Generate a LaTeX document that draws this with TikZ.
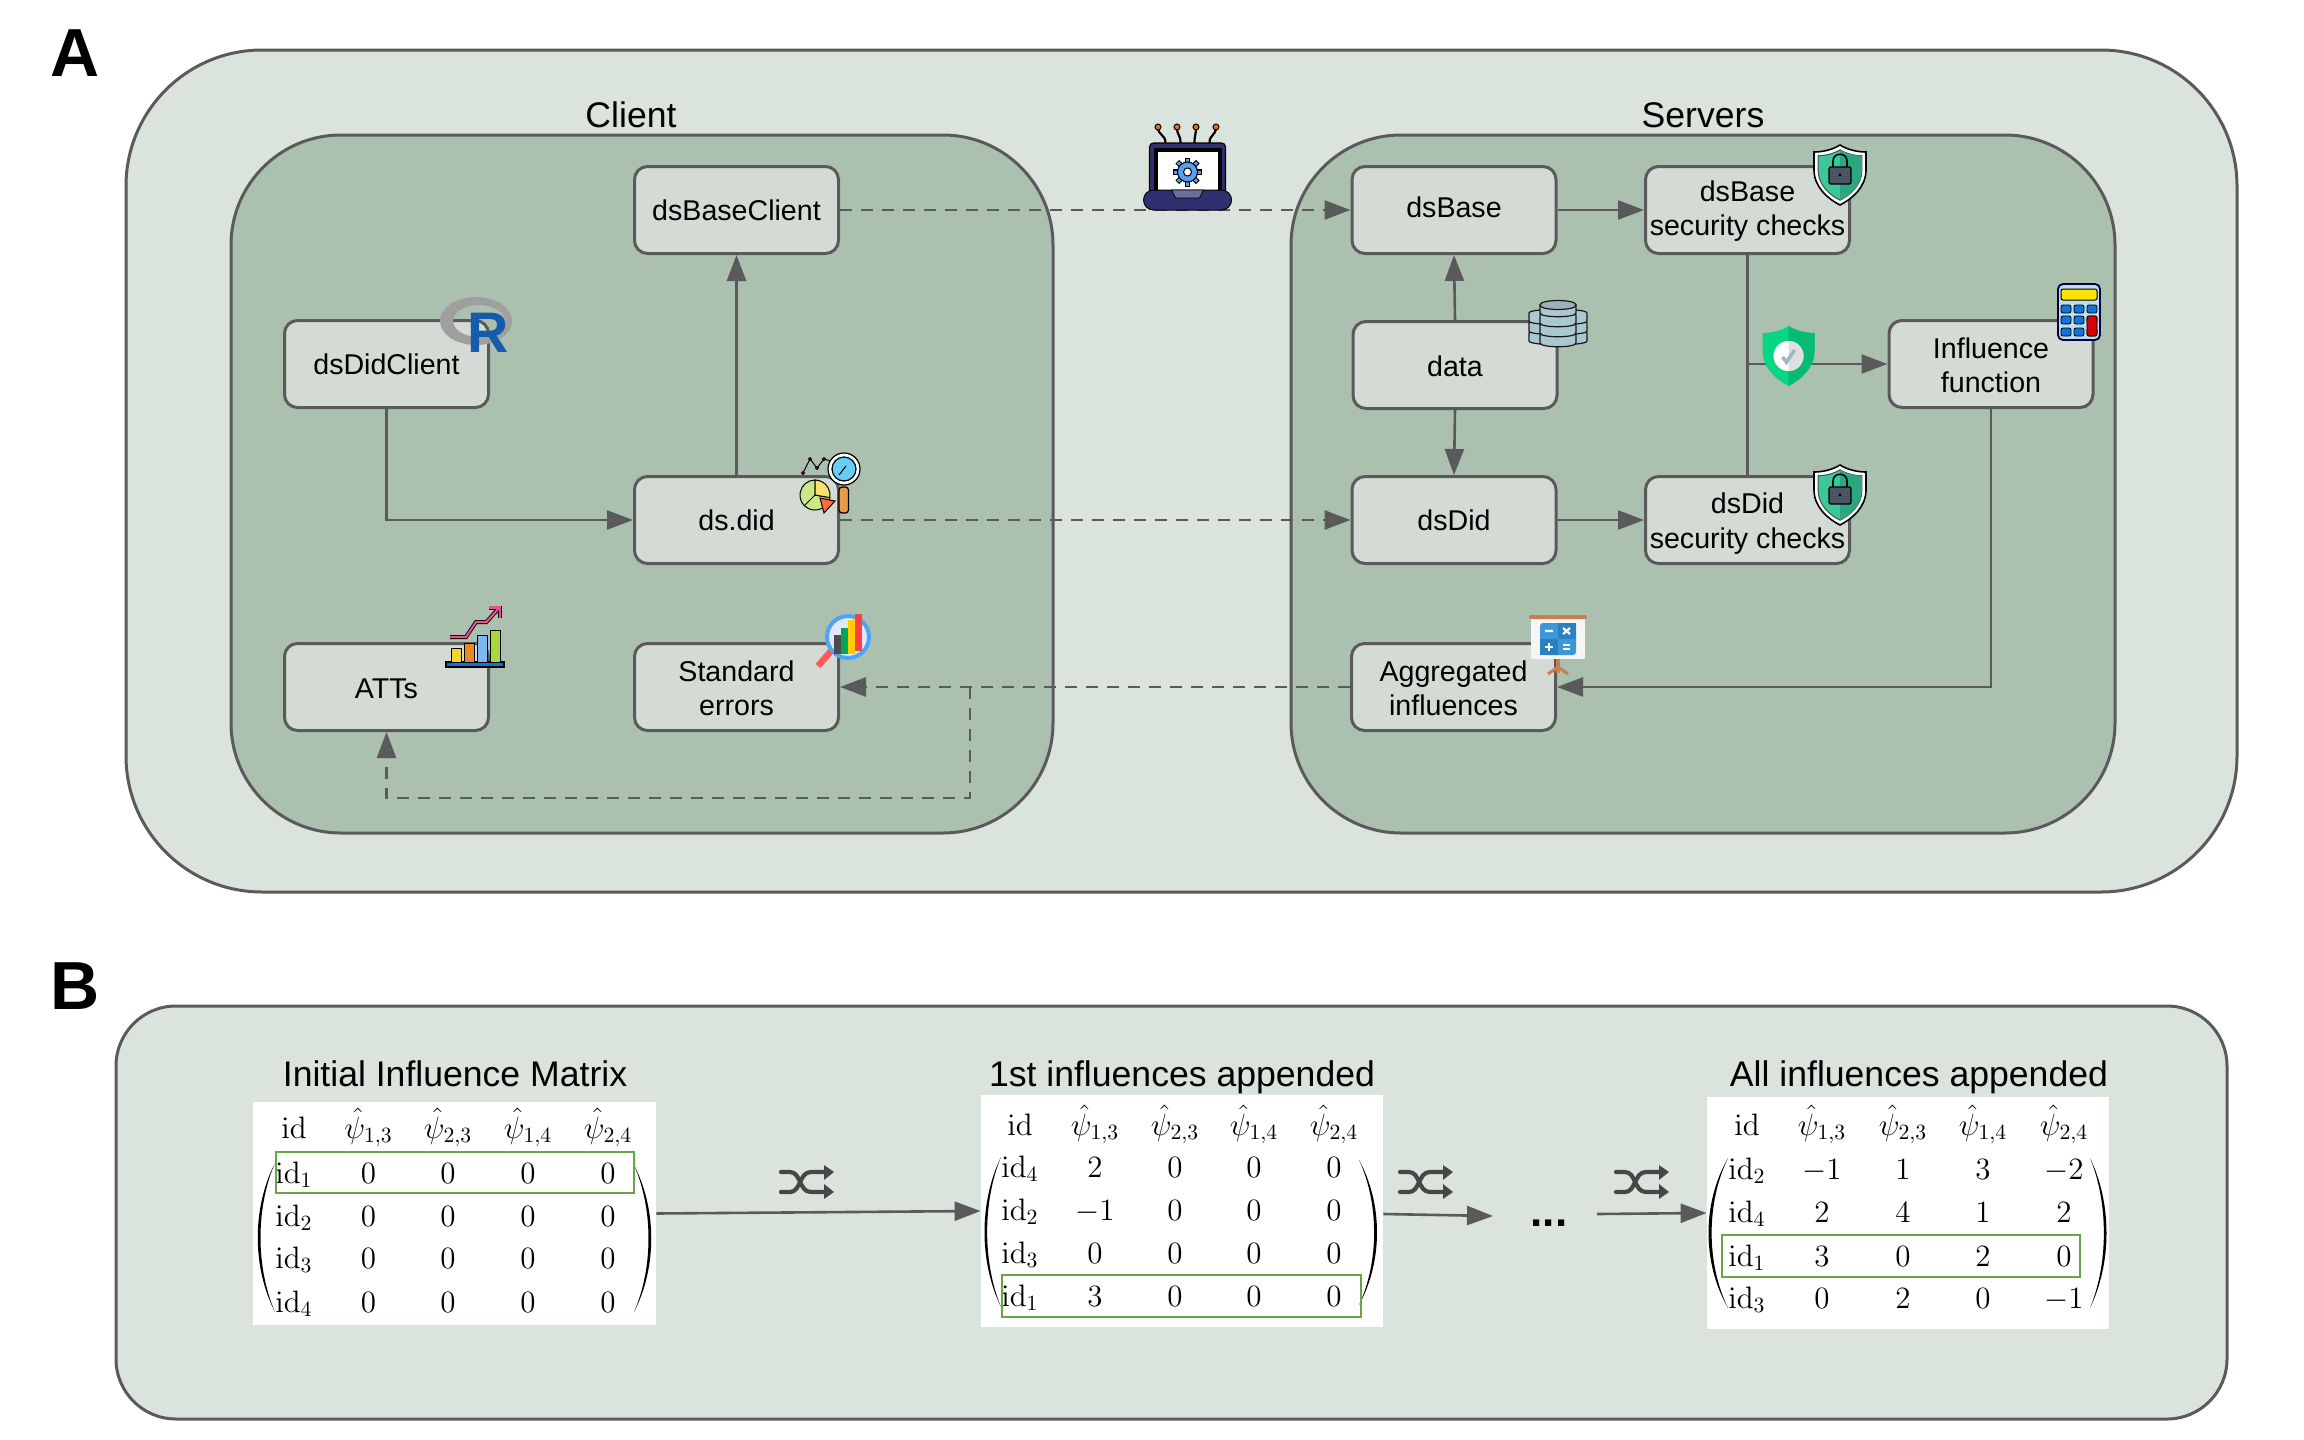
\documentclass[tikz,border=0pt]{standalone}
\usepackage[no-math]{fontspec}
\setmainfont{Liberation Sans}
\usepackage{fix-cm}
\usepackage{amsmath}
\usetikzlibrary{
  arrows.meta,
  calc
}
\definecolor{OuterFill}{HTML}{DBE4DC}
\definecolor{InnerFill}{HTML}{ACC0B0}
\definecolor{BoxFill}{HTML}{D3DBD4}
\definecolor{EdgeColor}{HTML}{5A5A5A}
\definecolor{RowGreen}{HTML}{67A54B}
\definecolor{IconNavy}{HTML}{2F3070}
\definecolor{ShieldA}{HTML}{3CC79A}
\definecolor{ShieldB}{HTML}{2BA67E}
\definecolor{LockGrey}{HTML}{4B5563}
\definecolor{GuardA}{HTML}{08D681}
\definecolor{GuardB}{HTML}{06BC72}
\definecolor{DiskBlue}{HTML}{A9C8D0}
\definecolor{KeyBlue}{HTML}{1274D9}
\definecolor{CalcBody}{HTML}{BCDCF0}
\definecolor{BoardLight}{HTML}{3B97D9}
\definecolor{BoardDark}{HTML}{2A80C0}
\definecolor{BoardWood}{HTML}{C87F4F}
\definecolor{GearBlue}{HTML}{5B9EF0}
\definecolor{RBlue}{HTML}{165CAA}
\definecolor{TrendPink}{HTML}{E8508F}
\definecolor{BarYellow}{HTML}{F6D32D}
\definecolor{BarOrange}{HTML}{E58A25}
\definecolor{BarBlue}{HTML}{7DB8F2}
\definecolor{BarGreen}{HTML}{A8D93A}
\definecolor{LensBlue}{HTML}{4DA6F5}

% Shield outlines, top centre at the origin
\newcommand{\shieldpath}{(0,0) .. controls (8,5) and (18,7) .. (26,7) -- (26,25)
  .. controls (26,42) and (12,54) .. (0,60) .. controls (-12,54) and (-26,42) .. (-26,25)
  -- (-26,7) .. controls (-18,7) and (-8,5) .. (0,0) -- cycle}
\newcommand{\shieldhalf}{(0,0) .. controls (8,5) and (18,7) .. (26,7) -- (26,25)
  .. controls (26,42) and (12,54) .. (0,60) -- cycle}
% Pushes a stacked label down inside its box
\newcommand{\lowline}[1]{\rule{0pt}{#1pt}}

\tikzset{
  % Big rounded panels
  outerpanel/.style={draw=EdgeColor, fill=OuterFill, line width=1.5pt},
  innerpanel/.style={draw=EdgeColor, fill=InnerFill, line width=1.5pt, rounded corners=55pt},
  % Package box
  pkgbox/.style={
    draw=EdgeColor,
    fill=BoxFill,
    line width=1.5pt,
    rounded corners=6.5pt,
    minimum width=102pt,
    minimum height=43.5pt,
    inner sep=0pt,
    align=center,
    font=\fontsize{14.3}{17.2}\selectfont
  },
  % Panel and matrix titles
  paneltitle/.style={font=\fontsize{17.8}{20}\selectfont, inner sep=0pt},
  % Panel letter
  panelletter/.style={font=\fontsize{34}{36}\selectfont\bfseries, inner sep=0pt},
  % Solid edge
  link/.style={draw=EdgeColor, line width=1.3pt},
  % Directed edge
  dlink/.style={link, -{Triangle[length=13pt,width=9.5pt]}},
  % Dashed directed edge
  dashlink/.style={dlink, line width=1.4pt, dash pattern=on 6pt off 4.5pt},
  % White matrix sheet
  matsheet/.style={fill=white, inner sep=0pt},
  % Matrix entry
  cell/.style={anchor=base, inner sep=0pt, font=\fontsize{15.5}{18}\selectfont},
  % Highlighted matrix row
  rowmark/.style={draw=RowGreen, line width=1.1pt},
  % Shuffle symbol
  shuffle/.pic={
    \draw[line width=2.1pt, draw=black!72, line cap=round]
      (0,-10) -- (9,-10) .. controls (20,-10) and (18,10) .. (30,10) -- (46,10);
    \draw[line width=2.1pt, draw=black!72, line cap=round]
      (0,10) -- (9,10) .. controls (20,10) and (18,-10) .. (30,-10) -- (46,-10);
    \fill[black!72] (43,-17) -- (53,-10) -- (43,-2) -- cycle;
    \fill[black!72] (43,2) -- (53,10) -- (43,17) -- cycle;
  },
  % Laptop, centre of the screen at the origin
  laptopicon/.pic={
    \foreach \ax/\bx in {-29.5/-22, -10.5/-7, 8.5/7, 28.5/22} {
      \draw[line width=1.1pt, black] (\ax,-45) .. controls (\ax,-36) and (\bx,-38) .. (\bx,-29);
      \fill[orange!80!red, draw=black, line width=.5pt] (\ax,-45) circle (3);
    }
    \fill[IconNavy, draw=black, line width=.6pt, rounded corners=2pt] (-38,-29) rectangle (38,22);
    \fill[black] (-34,-24) rectangle (34,21);
    \fill[white] (-30,-20) rectangle (30,20);
    \fill[IconNavy, draw=black, line width=.5pt, rounded corners=5pt] (-44,18) rectangle (44,38);
    \fill[IconNavy!70!white, draw=black, line width=.4pt] (-16,18) -- (16,18) -- (12,26) -- (-12,26) -- cycle;
    \foreach \a in {0,45,...,315}
      \draw[line width=2.6pt, black] (0,0) -- (\a:14.5);
    \foreach \a in {0,45,...,315}
      \draw[line width=1.5pt, GearBlue] (0,0) -- (\a:13.5);
    \fill[GearBlue, draw=black, line width=.5pt] (0,0) circle (10);
    \fill[white, draw=black, line width=.5pt] (0,0) circle (4);
  },
  % Shield with a padlock
  lockshield/.pic={
    \fill[white, draw=black, line width=.8pt] \shieldpath;
    \begin{scope}[shift={(0,30)}, scale=.84, shift={(0,-30)}]
      \fill[ShieldA, draw=black!70, line width=.5pt] \shieldpath;
      \fill[ShieldB] \shieldhalf;
    \end{scope}
    \draw[black, line width=.8pt] (-7,22) -- (-7,16) .. controls (-7,7) and (7,7) .. (7,16) -- (7,22);
    \fill[LockGrey, draw=black, line width=.7pt, rounded corners=1pt] (-11,22) rectangle (11,39);
    \fill[black] (0,30) circle (1.6);
  },
  % Green shield with a tick
  guardshield/.pic={
    \fill[GuardA] \shieldpath;
    \fill[GuardB] \shieldhalf;
    \fill[white] (0,30) circle (15);
    \fill[gray!25] (0,45) arc (90:-90:15) -- cycle;
    \draw[line width=1.8pt, cyan!25!gray!70] (-6,31) -- (-2,36) -- (6,24);
  },
  % Stacked disks
  diskicon/.pic={
    \foreach \hw/\ys in {29/{8,-2,-12}, 18/{10,0,-10,-20}}
      \foreach \yy in \ys {
        \fill[DiskBlue, draw=black!90, line width=.6pt]
          (-\hw,\yy) -- (-\hw,\yy+8) .. controls (-\hw,\yy+13) and (\hw,\yy+13) .. (\hw,\yy+8)
          -- (\hw,\yy) .. controls (\hw,\yy-5) and (-\hw,\yy-5) .. (-\hw,\yy) -- cycle;
      }
    \fill[DiskBlue!70!gray, draw=black!90, line width=.6pt]
      (-18,-20) .. controls (-18,-26) and (18,-26) .. (18,-20)
      .. controls (18,-14) and (-18,-14) .. (-18,-20) -- cycle;
  },
  % Calculator
  calcicon/.pic={
    \fill[CalcBody, draw=black!75!blue, line width=.9pt, rounded corners=2.5pt] (-21,-28) rectangle (21,28);
    \fill[yellow!85!orange, draw=black, line width=.5pt, rounded corners=1pt] (-18,-23) rectangle (18,-12);
    \foreach \xx in {-18,-5,8}
      \foreach \yy in {-7,4,16}
        \fill[KeyBlue, draw=black, line width=.4pt, rounded corners=1pt] (\xx,\yy) rectangle (\xx+10,\yy+8);
    \fill[red!85!black, draw=black, line width=.4pt, rounded corners=1pt] (8,4) rectangle (18,24);
  },
  % Grey ring of the R logo
  rringicon/.pic={
    \fill[gray!75!white, even odd rule] (0,0) ellipse (36 and 24) (3,0) ellipse (26 and 16);
  },
  % Pie chart, line chart and lens
  didicon/.pic={
    \draw[black, line width=.5pt] (-41,-22) -- (-34,-36) -- (-27,-27) -- (-20,-36) -- (2,-29);
    \foreach \xx/\yy in {-41/-22, -34/-36, -27/-27, -20/-36, 2/-29, -5/-14}
      \fill[red!70!black, draw=black, line width=.3pt] (\xx,\yy) circle (1.6);
    \fill[BarGreen!60!white, draw=black, line width=.5pt] (-29,0) -- ++(10:15) arc (10:270:15) -- cycle;
    \fill[BarYellow!70!white, draw=black, line width=.5pt] (-29,0) -- ++(-90:15) arc (-90:10:15) -- cycle;
    \draw[black, line width=.5pt] (-29,0) -- ++(135:15);
    \fill[red!55!orange!75!white, draw=black, line width=.5pt] (-24,3) -- (-9,6) -- (-20,18) -- cycle;
    \fill[orange!55!brown!80!white, draw=black, line width=.6pt, rounded corners=1.5pt] (-5,-8) rectangle (4.5,18);
    \fill[white, draw=black, line width=.6pt] (0,-26) circle (16);
    \fill[cyan!60!white, draw=black, line width=.6pt] (0,-26) circle (12);
    \draw[black, line width=.5pt] (-5,-20) -- (2,-29);
  },
  % Lens over a bar chart
  lensicon/.pic={
    \draw[red!65!white, line width=3.2pt] (-30,29) -- (-17,14);
    \fill[gray!25!blue!12!white, draw=LensBlue, line width=2pt] (0,0) circle (21);
    \fill[gray!60!black] (-14,-2) rectangle (-7,17);
    \fill[teal!70!green] (-7,-9) rectangle (0,17);
    \fill[orange!40!yellow] (0,-17) rectangle (7,17);
    \fill[red!75!white] (7,-23) rectangle (14,14);
  },
  % Bars with a rising arrow
  attsicon/.pic={
    \fill[KeyBlue, draw=black, line width=.6pt] (-29,-3) rectangle (29,2);
    \foreach \xx/\tp/\col in {-24/-17/BarYellow, -11/-22/BarOrange, 2/-30/BarBlue, 15/-35/BarGreen} {
      \fill[\col, draw=black, line width=.5pt] (\xx,\tp) rectangle (\xx+10,-3);
    }
    \draw[black, line width=2pt, line join=miter] (-25,-28) -- (-9,-28) -- (1,-43) -- (11.5,-43) -- (24,-57);
    \draw[black, line width=2pt] (14,-57.5) -- (25,-57.5) -- (25,-47);
    \draw[TrendPink, line width=1.1pt, line join=miter] (-25,-28) -- (-9,-28) -- (1,-43) -- (11.5,-43) -- (24,-57);
    \draw[TrendPink, line width=1.1pt] (14,-57.5) -- (25,-57.5) -- (25,-47);
  },
  % Calculation board on a stand
  boardicon/.pic={
    \draw[BoardWood, line width=1.8pt] (0,18) -- (0,32);
    \draw[BoardWood, line width=1.5pt] (-10,33) -- (0,26) -- (10,33);
    \fill[white!92!gray] (-27,-23) rectangle (27,18);
    \fill[BoardWood, rounded corners=1pt] (-29,-26) rectangle (29,-22);
    \fill[BoardLight, rounded corners=1.5pt] (-18,-18) rectangle (18,14);
    \fill[BoardDark] (-18,-2) rectangle (0,14);
    \fill[BoardDark] (0,-18) rectangle (18,-2);
    \draw[white, line width=1.1pt] (-13,-10) -- (-5,-10) (5,-13) -- (12,-7) (12,-13) -- (5,-7);
    \draw[white, line width=1.1pt] (-13,6) -- (-5,6) (-9,2) -- (-9,10) (5,4) -- (12,4) (5,8) -- (12,8);
  }
}

% Columns of the matrix being drawn
\newcommand{\infcols}[5]{\def\cxa{#1}\def\cxb{#2}\def\cxc{#3}\def\cxd{#4}\def\cxe{#5}}
% Header row: name, baseline
\newcommand{\infhead}[2]{
  \node[cell] (#1id) at (\cxa,#2) {$\mathrm{id}$};
  \node[cell] (#1ha) at (\cxb,#2) {$\hat{\psi}_{1,3}$};
  \node[cell] (#1hb) at (\cxc,#2) {$\hat{\psi}_{2,3}$};
  \node[cell] (#1hc) at (\cxd,#2) {$\hat{\psi}_{1,4}$};
  \node[cell] (#1hd) at (\cxe,#2) {$\hat{\psi}_{2,4}$};
}
% Data row: name, baseline, id, four values
\newcommand{\infrow}[7]{
  \node[cell] (#1r#3) at (\cxa,#2) {$\mathrm{id}_{#3}$};
  \node[cell] (#1r#3a) at (\cxb,#2) {$#4$};
  \node[cell] (#1r#3b) at (\cxc,#2) {$#5$};
  \node[cell] (#1r#3c) at (\cxd,#2) {$#6$};
  \node[cell] (#1r#3d) at (\cxe,#2) {$#7$};
}
% Tapered bracket: tip x, bulge control x, top, bottom
\newcommand{\matparen}[4]{
  \fill[black] (#1,#3) .. controls (#2,{#3+.3*(#4-#3)}) and (#2,{#4-.3*(#4-#3)}) .. (#1,#4)
    .. controls ({#2+.16*(#1-#2)},{#4-.3*(#4-#3)}) and ({#2+.16*(#1-#2)},{#3+.3*(#4-#3)}) .. (#1,#3) -- cycle;
}

\begin{document}
\begin{tikzpicture}[x=0.5pt, y=-0.5pt]
  \useasboundingbox (0,0) rectangle (2304,1440);

  % Panel A
  \draw[outerpanel, rounded corners=68pt] (126,50) rectangle (2237,892);
  \draw[innerpanel] (231,135) rectangle (1053,833);
  \draw[innerpanel] (1291,135) rectangle (2115,833);
  \node[panelletter] (letterA) at (75,53) {A};
  \node[paneltitle] (client) at (631,115) {Client};
  \node[paneltitle] (servers) at (1703,115) {Servers};

  % Client side
  \node[pkgbox] (dsBaseClient) at (736.5,210) {dsBaseClient};
  \node[pkgbox] (dsDidClient) at (386.5,364) {dsDidClient};
  \node[pkgbox] (dsdid) at (736.5,520) {ds.did};
  \node[pkgbox, text height=12pt] (atts) at (386.5,687) {ATTs};
  \node[pkgbox] (stderrs) at (736.5,687) {\lowline{11.4}Standard\\errors};

  % Server side
  \node[pkgbox, text depth=3pt] (dsBase) at (1454,210) {dsBase};
  \node[pkgbox] (checkBase) at (1747.5,210) {\lowline{11.7}dsBase\\security checks};
  \node[pkgbox, text height=12pt] (data) at (1455,365) {data};
  \node[pkgbox] (influence) at (1991,364) {\lowline{11.4}Influence\\function};
  \node[pkgbox] (dsDid) at (1454,520) {dsDid};
  \node[pkgbox] (checkDid) at (1747.5,520) {\lowline{13.8}dsDid\\security checks};
  \node[pkgbox] (aggregated) at (1453.5,687) {\lowline{11.4}Aggregated\\influences};

  % Solid edges
  \draw[dlink] (dsDidClient.south) |- (dsdid.west);
  \draw[dlink] (dsdid.north) -- (dsBaseClient.south);
  \draw[dlink] (data.north) -- (dsBase.south);
  \draw[dlink] (data.south) -- (dsDid.north);
  \draw[dlink] (dsBase.east) -- (checkBase.west);
  \draw[dlink] (dsDid.east) -- (checkDid.west);
  \draw[link] (checkBase.south) -- (checkDid.north);
  \draw[dlink] (checkBase.south |- influence.west) -- (influence.west);
  \draw[dlink] (influence.south) |- (aggregated.east);

  % Dashed edges
  \coordinate (branch) at (970,687);
  \coordinate (branchLow) at (970,798);
  \draw[dashlink] (dsBaseClient.east) -- (dsBase.west);
  \draw[dashlink] (dsdid.east) -- (dsDid.west);
  \draw[dashlink] (aggregated.west) -- (stderrs.east);
  \draw[dashlink] (branch) -- (branchLow) -| (atts.south);

  % Icons
  \pic (icLaptop) at (1187.5,172) {laptopicon};
  \pic (icLockA) at (1840,145) {lockshield};
  \pic (icLockB) at (1840,465) {lockshield};
  \pic (icGuard) at (1788.5,326) {guardshield};
  \pic (icDisks) at (1558,325) {diskicon};
  \pic (icCalc) at (2079,312) {calcicon};
  \pic (icRing) at (476,321) {rringicon};
  \node[inner sep=0pt, text=RBlue, font=\fontsize{28.6}{30}\selectfont\bfseries] (logoR) at (488.5,332.5) {R};
  \pic (icDid) at (844,495) {didicon};
  \pic (icLens) at (848,637) {lensicon};
  \pic (icAtts) at (475,665) {attsicon};
  \pic (icBoard) at (1558,641) {boardicon};

  % Panel B
  \draw[outerpanel, rounded corners=30pt] (116,1006) rectangle (2227,1419);
  \node[panelletter] (letterB) at (75,986) {B};
  \node[paneltitle] (titleA) at (455,1074) {Initial Influence Matrix};
  \node[paneltitle] (titleB) at (1182,1077) {1st influences appended};
  \node[paneltitle] (titleC) at (1919,1077) {All influences appended};

  \node[matsheet, minimum width=201.5pt, minimum height=111.5pt] (matA) at (454.5,1213.5) {};
  \node[matsheet, minimum width=201pt, minimum height=116pt] (matB) at (1182,1211) {};
  \node[matsheet, minimum width=201pt, minimum height=116pt] (matC) at (1908,1213) {};

  % First matrix
  \infcols{294}{368.5}{448}{528}{608}
  \infhead{a}{1138}
  \infrow{a}{1183}{1}{0}{0}{0}{0}
  \infrow{a}{1226}{2}{0}{0}{0}{0}
  \infrow{a}{1268}{3}{0}{0}{0}{0}
  \infrow{a}{1312}{4}{0}{0}{0}{0}
  \matparen{275}{252}{1163}{1312}
  \matparen{634}{657}{1165}{1312}
  \draw[rowmark] (276,1152) rectangle (634,1193);

  % Second matrix
  \infcols{1020}{1095}{1175}{1254}{1334}
  \infhead{b}{1135}
  \infrow{b}{1177}{4}{2}{0}{0}{0}
  \infrow{b}{1220}{2}{-1}{0}{0}{0}
  \infrow{b}{1263}{3}{0}{0}{0}{0}
  \infrow{b}{1306}{1}{3}{0}{0}{0}
  \matparen{1001}{979}{1157}{1307}
  \matparen{1359}{1383}{1160}{1305}
  \draw[rowmark] (1002,1275) rectangle (1361,1317);

  % Third matrix
  \infcols{1747}{1822}{1903}{1983}{2064}
  \infhead{c}{1135}
  \infrow{c}{1179}{2}{-1}{1}{3}{-2}
  \infrow{c}{1222}{4}{2}{4}{1}{2}
  \infrow{c}{1266}{1}{3}{0}{2}{0}
  \infrow{c}{1308}{3}{0}{2}{0}{-1}
  \matparen{1728}{1702}{1158}{1308}
  \matparen{2090}{2112}{1158}{1308}
  \draw[rowmark] (1722,1235) rectangle (2080,1277);

  % Steps between the matrices
  \node[inner sep=0pt, font=\fontsize{22}{24}\selectfont\bfseries] (dots) at (1549,1223) {...};
  \coordinate (dotsIn) at (1493,1216);
  \coordinate (dotsOut) at (1597,1214);
  \draw[dlink] (matA.east) -- (matB.west);
  \draw[dlink] (matB.east |- 0,1214) -- (dotsIn);
  \draw[dlink] (dotsOut) -- (matC.west);
  \pic (shufA) at (781,1182) {shuffle};
  \pic (shufB) at (1400,1182) {shuffle};
  \pic (shufC) at (1616,1182) {shuffle};
\end{tikzpicture}
\end{document}
